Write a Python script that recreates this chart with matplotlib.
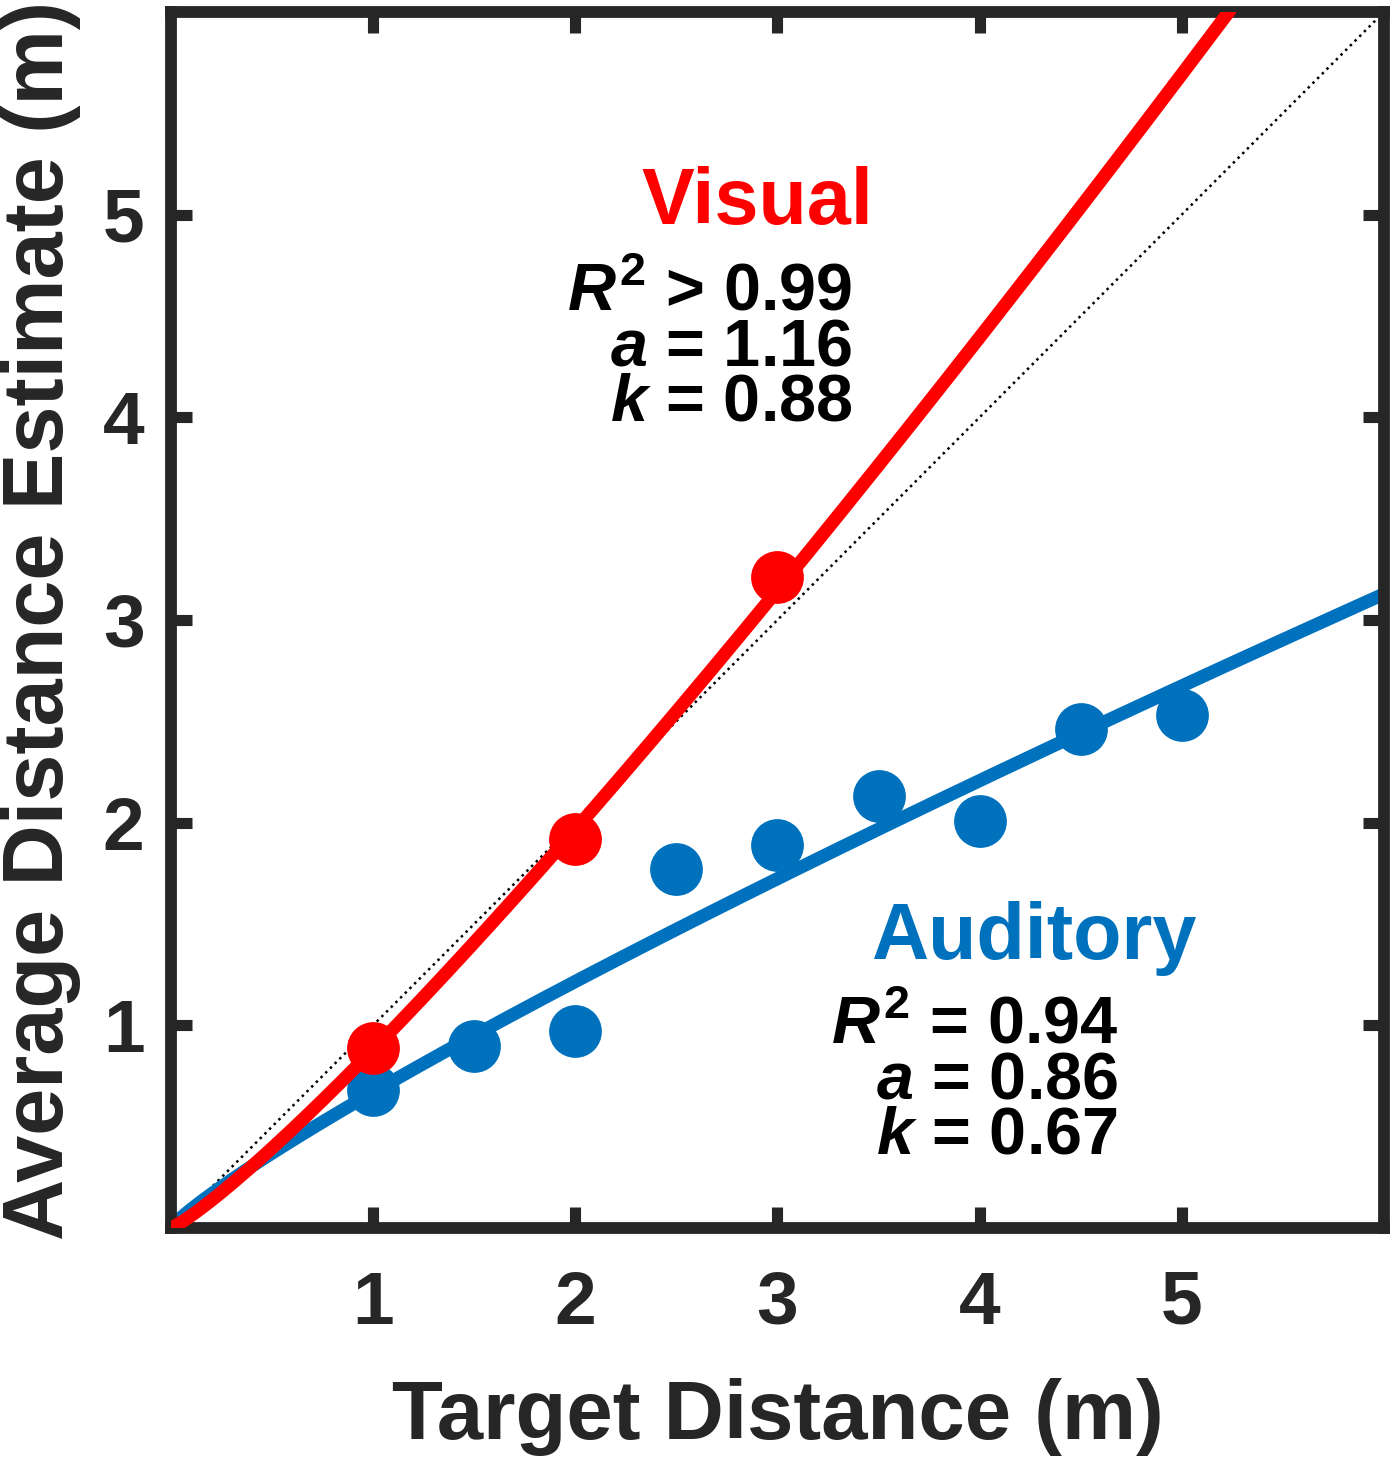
"""
Average distance estimate vs target distance, visual and auditory,
with power-function fits y = k * x**a.
"""

import numpy as np
import matplotlib
matplotlib.use("Agg")
import matplotlib.pyplot as plt

# data
visual_x = [1, 2, 3]
visual_y = [0.89, 1.92, 3.21]
auditory_x = [1, 1.5, 2, 2.5, 3, 3.5, 4, 4.5, 5]
auditory_y = [0.68, 0.90, 0.97, 1.77, 1.89, 2.13, 2.01, 2.46, 2.53]

# fit parameters printed on the figure
visual_a, visual_k, visual_r2 = 1.16, 0.88, "> 0.99"
auditory_a, auditory_k, auditory_r2 = 0.86, 0.67, "= 0.94"

ticks = [1, 2, 3, 4, 5]

RED = "#FF0000"
BLUE = "#0072BD"
DARK = "#262626"

plt.rcParams["font.family"] = ["Liberation Sans", "DejaVu Sans"]
plt.rcParams["font.weight"] = "bold"
plt.rcParams["mathtext.fontset"] = "custom"
plt.rcParams["mathtext.rm"] = "Liberation Sans:bold"
plt.rcParams["mathtext.bf"] = "Liberation Sans:bold"
plt.rcParams["mathtext.it"] = "Liberation Sans:bold:italic"

fig = plt.figure(figsize=(14, 14.61), dpi=100)
ax = fig.add_axes([0.1221, 0.1595, 0.8664, 0.8323])

xs = np.linspace(0, 6, 400)
ax.plot([0, 6], [0, 6], color="black", linestyle=":", linewidth=1.8, zorder=1)

ax.plot(xs, auditory_k * xs ** auditory_a, color=BLUE, linewidth=9.5,
        solid_capstyle="butt", zorder=2)
ax.plot(auditory_x, auditory_y, "o", color=BLUE, markersize=38,
        markeredgewidth=0, zorder=3)
ax.plot(xs, visual_k * xs ** visual_a, color=RED, linewidth=9.5,
        solid_capstyle="butt", zorder=4)
ax.plot(visual_x, visual_y, "o", color=RED, markersize=38,
        markeredgewidth=0, zorder=5)

ax.set_xlim(0, 6)
ax.set_ylim(0, 6)
ax.set_xticks(ticks)
ax.set_yticks(ticks)
ax.tick_params(direction="in", length=15, width=8, color=DARK,
               labelsize=54, labelcolor=DARK, top=True, right=True)
ax.tick_params(axis="x", pad=30)
ax.tick_params(axis="y", pad=19)
for lab in ax.get_xticklabels() + ax.get_yticklabels():
    lab.set_fontweight("bold")
for sp in ax.spines.values():
    sp.set_linewidth(8.5)
    sp.set_color(DARK)

ax.set_xlabel("Target Distance (m)", fontsize=60, fontweight="bold",
              color=DARK, labelpad=28)
ax.set_ylabel("Average Distance Estimate (m)", fontsize=61, fontweight="bold",
              color=DARK, labelpad=16)

# annotations: group name, then the fit stats block (anchored on last baseline)
ax.text(2.90, 4.955, "Visual", color=RED, fontsize=57, fontweight="bold",
        ha="center", va="baseline")
vis_stats = "\n".join([r"$R^2$ " + visual_r2, r"$a$ = %.2f" % visual_a,
                       r"$k$ = %.2f" % visual_k])
ax.text(3.37, 3.985, vis_stats, color="black", fontsize=48, fontweight="bold",
        ha="right", va="baseline", multialignment="right", linespacing=0.85)

ax.text(4.27, 1.328, "Auditory", color=BLUE, fontsize=57, fontweight="bold",
        ha="center", va="baseline")
aud_stats = "\n".join([r"$R^2$ " + auditory_r2, r"$a$ = %.2f" % auditory_a,
                       r"$k$ = %.2f" % auditory_k])
ax.text(4.685, 0.368, aud_stats, color="black", fontsize=48, fontweight="bold",
        ha="right", va="baseline", multialignment="right", linespacing=0.85)

fig.savefig("out.png", dpi=100)
